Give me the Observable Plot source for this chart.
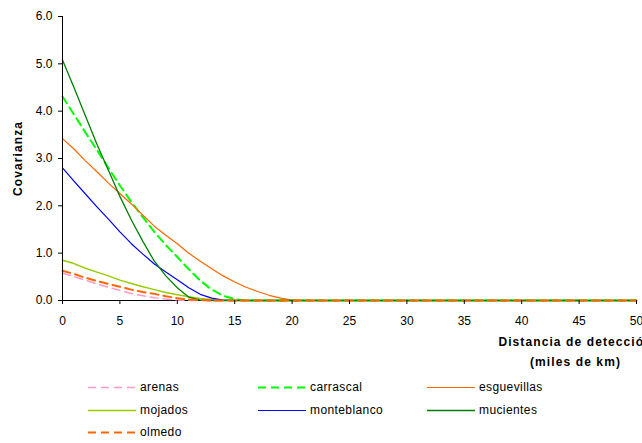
<!DOCTYPE html>
<html><head><meta charset="utf-8">
<script src="https://cdn.jsdelivr.net/npm/d3@7"></script>
<script src="https://cdn.jsdelivr.net/npm/@observablehq/plot@0.6"></script>
<style>
body{margin:0;background:#fff;font-family:"Liberation Sans",Arial,sans-serif;}
#legend{position:relative;height:68px;width:642px;font-size:12px;color:#000;letter-spacing:0.4px}
.item{position:absolute;display:flex;align-items:center;height:16px}
.item svg{margin-right:4px}
</style></head><body><div id="chart"></div><div id="legend"></div>
<script>
const distancia = [0,1,2,3,4,5,6,7,8,9,10,11,12,13,14,15,16,17,18,19,20,21,22,23,24,25,26,27,28,29,30,31,32,33,34,35,36,37,38,39,40,41,42,43,44,45,46,47,48,49,50];
const arenas = [0.58,0.50,0.43,0.35,0.28,0.21,0.15,0.10,0.06,0.03,0.01,
  0,0,0,0,0,0,0,0,0,0, 0,0,0,0,0,0,0,0,0,0, 0,0,0,0,0,0,0,0,0,0, 0,0,0,0,0,0,0,0,0,0];
const carrascal = [4.31,3.93,3.55,3.18,2.80,2.43,2.08,1.76,1.45,1.17,0.92,0.66,0.42,0.23,0.10,0.03,0,
  0,0,0,0,0,0,0,0,0,0, 0,0,0,0,0,0,0,0,0,0, 0,0,0,0,0,0,0,0,0,0, 0,0,0,0];
const esguevillas = [3.42,3.20,2.95,2.72,2.48,2.26,2.04,1.80,1.57,1.38,1.20,1.00,0.83,0.67,0.52,0.39,0.28,0.19,0.11,0.05,0.01,
  0,0,0,0,0,0,0,0,0,0, 0,0,0,0,0,0,0,0,0,0, 0,0,0,0,0,0,0,0,0,0];
const mojados = [0.85,0.78,0.68,0.60,0.52,0.43,0.36,0.29,0.23,0.17,0.12,0.08,0.04,0.02,0.01,
  0,0,0,0,0,0,0,0,0,0, 0,0,0,0,0,0,0,0,0,0, 0,0,0,0,0,0,0,0,0,0, 0,0,0,0,0,0];
const monteblanco = [2.80,2.52,2.25,1.98,1.72,1.45,1.20,0.98,0.77,0.60,0.44,0.27,0.13,0.05,0.01,
  0,0,0,0,0,0,0,0,0,0, 0,0,0,0,0,0,0,0,0,0, 0,0,0,0,0,0,0,0,0,0, 0,0,0,0,0,0];
const mucientes = [5.08,4.50,3.90,3.30,2.75,2.20,1.70,1.25,0.83,0.52,0.27,0.07,0.01,
  0,0,0,0,0,0,0,0,0,0, 0,0,0,0,0,0,0,0,0,0, 0,0,0,0,0,0,0,0,0,0, 0,0,0,0,0,0,0,0];
const olmedo = [0.63,0.56,0.48,0.41,0.35,0.29,0.23,0.18,0.14,0.09,0.05,0.02,0.01,
  0,0,0,0,0,0,0,0,0,0, 0,0,0,0,0,0,0,0,0,0, 0,0,0,0,0,0,0,0,0,0, 0,0,0,0,0,0,0,0];

const xTicks = [0,5,10,15,20,25,30,35,40,45,50];
const yTicks = [0,1,2,3,4,5,6];
const yLabel = "Covarianza";
const xLabel1 = "Distancia de detección";
const xLabel2 = "(miles de km)";

const series = [
  {name:"arenas", values:arenas, color:"#FF99CC", width:1.5, dash:"8,5"},
  {name:"carrascal", values:carrascal, color:"#00FF00", width:2, dash:"8,5"},
  {name:"esguevillas", values:esguevillas, color:"#FF6600", width:1.2, dash:null},
  {name:"mojados", values:mojados, color:"#99CC00", width:1.5, dash:null},
  {name:"monteblanco", values:monteblanco, color:"#0000FF", width:1.2, dash:null},
  {name:"mucientes", values:mucientes, color:"#008000", width:1.3, dash:null},
  {name:"olmedo", values:olmedo, color:"#FF6600", width:2, dash:"8,5"}
];

const lineMarks = series.map(s => {
  const rows = distancia.map((d,i) => ({x:d, y:s.values[i]}));
  return Plot.line(rows, {x:"x", y:"y", stroke:s.color, strokeWidth:s.width, strokeDasharray:s.dash || undefined});
});

const chart = Plot.plot({
  width:642, height:375,
  marginLeft:62, marginRight:6, marginTop:16, marginBottom:75,
  style:{fontFamily:"'Liberation Sans', Arial, sans-serif", fontSize:"12px", background:"#fff", color:"#000"},
  x:{domain:[0,50], label:null},
  y:{domain:[0,6], label:null},
  marks:[
    Plot.ruleY([0], {stroke:"#000", strokeWidth:1}),
    ...lineMarks,
    Plot.ruleX([0], {stroke:"#000", strokeWidth:1}),
    Plot.axisX({ticks:xTicks, tickSize:4, tickPadding:12, fontSize:12, label:null, tickFormat:d=>String(d)}),
    Plot.axisY({ticks:yTicks, tickSize:4, tickPadding:6, fontSize:12, label:null, tickFormat:d3.format(".1f")}),
    Plot.text([yLabel], {frameAnchor:"left", dx:-44, rotate:-90, fontWeight:"bold", fontSize:12, textAnchor:"middle", lineAnchor:"middle"}),
    Plot.text([xLabel1], {frameAnchor:"bottom", dx:226, dy:42, fontWeight:"bold", fontSize:12, textAnchor:"middle", lineAnchor:"middle"}),
    Plot.text([xLabel2], {frameAnchor:"bottom", dx:226, dy:62, fontWeight:"bold", fontSize:12, textAnchor:"middle", lineAnchor:"middle"})
  ]
});
chart.querySelectorAll('[aria-label="text"] text').forEach(t => t.setAttribute("letter-spacing","1.1"));
document.getElementById("chart").appendChild(chart);

const legend = document.getElementById("legend");
const colX = [88, 258, 427];
const rowY = [4, 27, 49];
series.forEach((s,i) => {
  const el = document.createElement("div");
  el.className = "item";
  el.style.left = colX[i%3] + "px";
  el.style.top = rowY[Math.floor(i/3)] + "px";
  el.innerHTML = `<svg width="48" height="16"><line x1="0" y1="8.5" x2="48" y2="8.5" stroke="${s.color}" stroke-width="${s.width}" ${s.dash ? `stroke-dasharray="${s.dash}"` : ""}/></svg><span>${s.name}</span>`;
  legend.appendChild(el);
});
</script>
</body></html>
